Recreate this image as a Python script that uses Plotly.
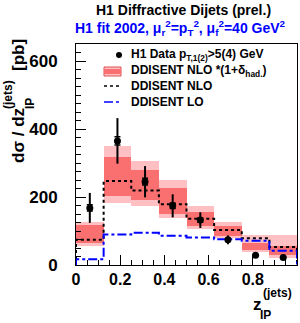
import plotly.graph_objects as go

# ---- data ----
bin_edges = [0.0, 0.125, 0.25, 0.375, 0.5, 0.625, 0.75, 0.875, 1.0]
bin_centers = [0.0625, 0.1875, 0.3125, 0.4375, 0.5625, 0.6875, 0.8125, 0.9375]
data_y = [168, 365, 245, 174, 132, 74, 29, 22]
data_err_tot = [44, 67, 46, 34, 23, 13, 4, 4]
data_err_stat = [9, 12, 10, 8, 6, 4, 2, 2]
nlo_y = [74, 247, 219, 179, 136, 103, 79, 53]
lo_y = [17, 90, 95, 86, 81, 76, 71, 42]
band_outer_lo = [56, 181, 174, 137, 105, 79, 39, 20]
band_outer_hi = [127, 350, 307, 250, 174, 127, 88, 88]
band_inner_lo = [64, 203, 191, 151, 115, 85, 44, 29]
band_inner_hi = [118, 319, 279, 227, 157, 115, 66, 56]
y_ticks = [0, 200, 400, 600]
x_ticks = [0, 0.2, 0.4, 0.6, 0.8, 1]
x_tick_text = ["0", "0.2", "0.4", "0.6", "0.8", "1"]

FONT = "Liberation Sans"
LIGHT = "rgb(255,192,196)"
DARK = "rgb(250,112,112)"

fig = go.Figure()

width = [bin_edges[i + 1] - bin_edges[i] for i in range(len(bin_centers))]
fig.add_trace(go.Bar(
    x=bin_centers, base=band_outer_lo,
    y=[h - l for h, l in zip(band_outer_hi, band_outer_lo)],
    width=width, marker=dict(color=LIGHT, line=dict(width=0)), showlegend=False))
fig.add_trace(go.Bar(
    x=bin_centers, base=band_inner_lo,
    y=[h - l for h, l in zip(band_inner_hi, band_inner_lo)],
    width=width, marker=dict(color=DARK, line=dict(width=0)), showlegend=False))


def step(vals):
    xs, ys = [bin_edges[0]], [0]
    for i, v in enumerate(vals):
        xs += [bin_edges[i], bin_edges[i + 1]]
        ys += [v, v]
    xs.append(bin_edges[-1])
    ys.append(0)
    return xs, ys


sx, sy = step(nlo_y)
fig.add_trace(go.Scatter(x=sx, y=sy, mode="lines",
                         line=dict(color="black", width=2, dash="dot"), showlegend=False))
sx, sy = step(lo_y)
fig.add_trace(go.Scatter(x=sx, y=sy, mode="lines",
                         line=dict(color="blue", width=2, dash="dashdot"), showlegend=False))

fig.add_trace(go.Scatter(
    x=bin_centers, y=data_y, mode="markers",
    marker=dict(color="black", size=7),
    error_y=dict(type="data", array=data_err_tot, color="black", thickness=2, width=0),
    showlegend=False))
fig.add_trace(go.Scatter(
    x=bin_centers, y=data_y, mode="markers",
    marker=dict(color="black", size=1, opacity=0),
    error_y=dict(type="data", array=data_err_stat, color="black", thickness=1.5, width=3),
    showlegend=False))

# legend (manual, paper coordinates)
def px(x):
    return (x - 76) / 221


def py(y):
    return (265 - y) / 221


fig.add_trace(go.Scatter(x=[px(119)], y=[py(55)], xaxis="x2", yaxis="y2", mode="markers",
                         marker=dict(color="black", size=6), showlegend=False))
fig.add_trace(go.Scatter(x=[px(104), px(121)], y=[py(86), py(86)], xaxis="x2", yaxis="y2",
                         mode="lines", line=dict(color="black", width=1.5, dash="dot"),
                         showlegend=False))
fig.add_trace(go.Scatter(x=[px(104), px(121)], y=[py(102), py(102)], xaxis="x2", yaxis="y2",
                         mode="lines", line=dict(color="blue", width=1.5, dash="dashdot"),
                         showlegend=False))

shapes = [
    dict(type="rect", xref="paper", yref="paper", x0=px(104), x1=px(121), y0=py(76), y1=py(67),
         fillcolor=LIGHT, line=dict(color="rgb(220,80,80)", width=1)),
    dict(type="rect", xref="paper", yref="paper", x0=px(104), x1=px(121), y0=py(74), y1=py(69),
         fillcolor=DARK, line=dict(width=0)),
]

lf = dict(family=FONT, size=12, color="black", weight="bold")
annotations = [
    dict(x=px(129), y=py(55), text="H1 Data p<sub>T,1(2)</sub>>5(4) GeV"),
    dict(x=px(129), y=py(71), text="DDISENT NLO *(1+δ<sub>had.</sub>)"),
    dict(x=px(129), y=py(86), text="DDISENT NLO"),
    dict(x=px(129), y=py(102), text="DDISENT LO"),
]
for a in annotations:
    a.update(xref="paper", yref="paper", xanchor="left", yanchor="middle",
             showarrow=False, font=lf)

tf = dict(family=FONT, size=14, color="black", weight="bold")
annotations += [
    dict(x=px(183), y=py(10), text="H1 Diffractive Dijets (prel.)", font=tf),
    dict(x=px(180), y=py(28),
         text="H1 fit 2002, μ<sub>r</sub><sup>2</sup>=p<sub>T</sub><sup>2</sup>, μ<sub>f</sub><sup>2</sup>=40 GeV<sup>2</sup>",
         font=dict(family=FONT, size=14, color="blue", weight="bold")),
    # x-axis title
    dict(x=px(257), y=py(304), text="z", font=dict(family=FONT, size=17, color="black", weight="bold")),
    dict(x=px(277), y=py(293), text="(jets)", font=dict(family=FONT, size=12, color="black", weight="bold")),
    dict(x=px(265), y=py(315), text="IP", font=dict(family=FONT, size=12, color="black", weight="bold")),
    # y-axis title
    dict(x=px(18), y=py(136), text="dσ / dz", textangle=-90,
         font=dict(family=FONT, size=17, color="black", weight="bold")),
    dict(x=px(8), y=py(95), text="(jets)", textangle=-90,
         font=dict(family=FONT, size=12, color="black", weight="bold")),
    dict(x=px(30), y=py(104), text="IP", textangle=-90,
         font=dict(family=FONT, size=12, color="black", weight="bold")),
    dict(x=px(18), y=py(55), text="[pb]", textangle=-90,
         font=dict(family=FONT, size=17, color="black", weight="bold")),
]
for a in annotations[4:]:
    a.update(xref="paper", yref="paper", xanchor="center", yanchor="middle", showarrow=False)

fig.update_layout(
    width=300, height=323,
    margin=dict(l=76, r=3, t=44, b=58),
    paper_bgcolor="white", plot_bgcolor="white",
    barmode="overlay", bargap=0,
    showlegend=False,
    shapes=shapes,
    annotations=annotations,
    xaxis=dict(range=[0, 1], tickvals=x_ticks, ticktext=x_tick_text, ticks="inside",
               ticklen=10, tickwidth=1, tickcolor="black",
               minor=dict(dtick=0.05, ticks="inside", ticklen=5, tickcolor="black"),
               showline=True, linecolor="black", linewidth=1, mirror=True,
               showgrid=False, zeroline=False,
               tickfont=dict(family=FONT, size=16, color="black", weight="bold")),
    yaxis=dict(range=[0, 650], tickvals=y_ticks, ticks="inside",
               ticklen=10, tickwidth=1, tickcolor="black",
               minor=dict(dtick=25, ticks="inside", ticklen=5, tickcolor="black"),
               showline=True, linecolor="black", linewidth=1, mirror=True,
               showgrid=False, zeroline=False, ticklabelstandoff=14,
               tickfont=dict(family=FONT, size=17, color="black", weight="bold")),
    xaxis2=dict(range=[0, 1], overlaying="x", visible=False, domain=[0, 1]),
    yaxis2=dict(range=[0, 1], overlaying="y", visible=False),
)

fig.write_html("out.html", config={"displayModeBar": False},
               post_script="document.body.style.margin='0px';document.body.style.overflow='hidden';")
